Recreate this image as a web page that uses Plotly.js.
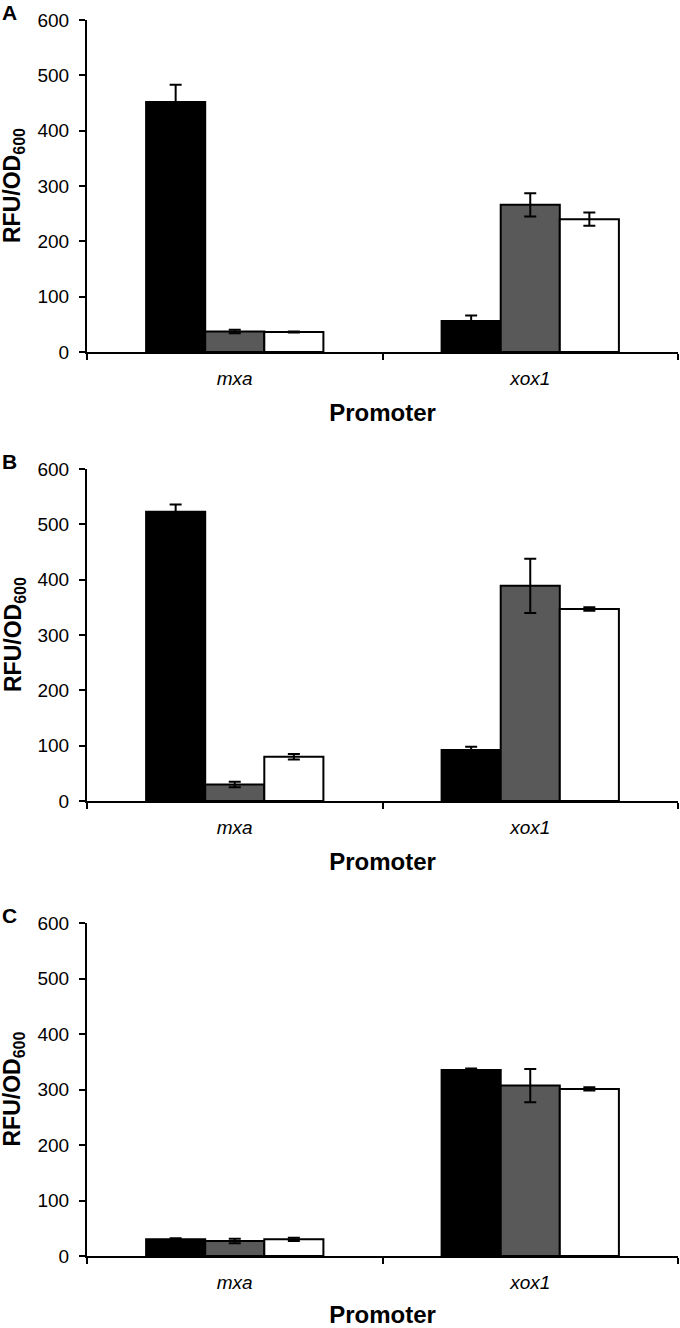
<!DOCTYPE html>
<html>
<head>
<meta charset="utf-8">
<script src="https://cdn.plot.ly/plotly-3.0.1.min.js"></script>
<style>
  html, body { margin: 0; padding: 0; background: #fff; }
  #myDiv { width: 680px; height: 1328px; }
</style>
</head>
<body>
<div id="myDiv"></div>
<script>
var promoters = ['mxa', 'xox1'];
var panels = ['A', 'B', 'C'];

// panel A
var aBlack = [452, 56];
var aBlackErr = [31, 10];
var aGray = [37, 266];
var aGrayErr = [3, 21];
var aWhite = [36, 240];
var aWhiteErr = [1, 12];

// panel B
var bBlack = [523, 92];
var bBlackErr = [13, 6];
var bGray = [30, 389];
var bGrayErr = [5, 49];
var bWhite = [80, 347];
var bWhiteErr = [5, 3];

// panel C
var cBlack = [30, 335];
var cBlackErr = [2, 3];
var cGray = [27, 307];
var cGrayErr = [4, 30];
var cWhite = [30, 301];
var cWhiteErr = [3, 3];

var fills = ['#000000', '#595959', '#ffffff'];
var font = 'Liberation Sans, Arial, sans-serif';

var series = [
  [[aBlack, aBlackErr], [aGray, aGrayErr], [aWhite, aWhiteErr]],
  [[bBlack, bBlackErr], [bGray, bGrayErr], [bWhite, bWhiteErr]],
  [[cBlack, cBlackErr], [cGray, cGrayErr], [cWhite, cWhiteErr]]
];

var data = [];
series.forEach(function (panel, p) {
  var sfx = p === 0 ? '' : String(p + 1);
  panel.forEach(function (s, i) {
    data.push({
      type: 'bar',
      x: promoters,
      y: s[0],
      xaxis: 'x' + sfx,
      yaxis: 'y' + sfx,
      marker: {color: fills[i], line: {color: '#000', width: 2}},
      error_y: {type: 'data', array: s[1], visible: true, color: '#000', thickness: 2, width: 6},
      showlegend: false,
      hoverinfo: 'y'
    });
  });
});

var domains = [[0.7314, 1.0], [0.3681, 0.6367], [0.0, 0.2694]];

var layout = {
  width: 680,
  height: 1328,
  margin: {l: 87, r: 2, t: 20, b: 72},
  paper_bgcolor: '#fff',
  plot_bgcolor: '#fff',
  barmode: 'group',
  bargap: 0.4,
  bargroupgap: 0,
  font: {family: font, color: '#000'},
  annotations: []
};

domains.forEach(function (d, p) {
  var sfx = p === 0 ? '' : String(p + 1);
  layout['xaxis' + sfx] = {
    domain: [0, 1],
    anchor: 'y' + sfx,
    showline: true,
    linecolor: '#000',
    linewidth: 2,
    ticks: 'outside',
    tickson: 'boundaries',
    ticklen: 6,
    tickwidth: 2,
    tickcolor: '#000',
    ticklabelstandoff: 8,
    showgrid: false,
    zeroline: false,
    tickfont: {family: font, size: 19, style: 'italic'},
    title: {text: 'Promoter', font: {family: font, size: 24, weight: 'bold'}, standoff: 16}
  };
  layout['yaxis' + sfx] = {
    domain: d,
    anchor: 'x' + sfx,
    range: [0, 600],
    dtick: 100,
    showline: true,
    linecolor: '#000',
    linewidth: 2,
    ticks: 'outside',
    ticklen: 6,
    tickwidth: 2,
    tickcolor: '#000',
    ticklabelstandoff: 6,
    showgrid: false,
    zeroline: false,
    tickfont: {family: font, size: 19}
  };
  layout.annotations.push({
    text: 'RFU/OD<sub>600</sub>',
    textangle: -90,
    xref: 'paper', x: 0, xshift: -73, xanchor: 'center',
    yref: 'y' + sfx + ' domain', y: 0.5, yanchor: 'middle',
    showarrow: false,
    font: {family: font, size: 23, weight: 'bold'}
  });
  layout.annotations.push({
    text: panels[p],
    xref: 'paper', x: 0, xshift: -78, xanchor: 'center',
    yref: 'y' + sfx + ' domain', y: 1, yshift: 8, yanchor: 'middle',
    showarrow: false,
    font: {family: font, size: 21, weight: 'bold'}
  });
});

Plotly.newPlot('myDiv', data, layout, {displayModeBar: false, staticPlot: true});
</script>
</body>
</html>
